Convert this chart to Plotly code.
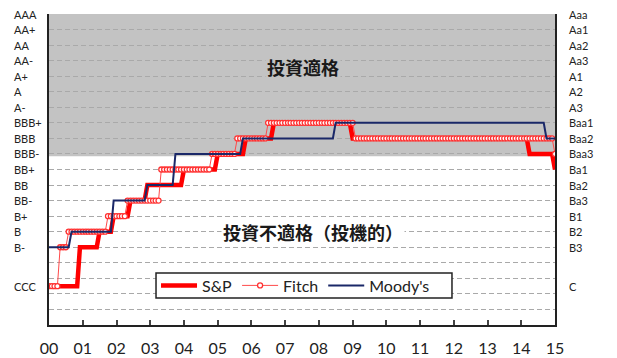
import pandas as pd
import plotly.graph_objects as go

# ---- data -------------------------------------------------------------
# rating scales (S&P/Fitch on the left, Moody's on the right) and their level on the axis
SP_SCALE = ["AAA", "AA+", "AA", "AA-", "A+", "A", "A-", "BBB+", "BBB", "BBB-",
            "BB+", "BB", "BB-", "B+", "B", "B-", "CCC"]
MOODY_SCALE = ["Aaa", "Aa1", "Aa2", "Aa3", "A1", "A2", "A3", "Baa1", "Baa2", "Baa3",
               "Ba1", "Ba2", "Ba3", "B1", "B2", "B3", "C"]
LEVELS = [20, 19, 18, 17, 16, 15, 14, 13, 12, 11, 10, 9, 8, 7, 6, 5, 2.5]

# monthly ratings, Jan-2000 .. Jan-2015, as (rating, number of months held)
SP_RUNS = [("CCC", 11), ("B-", 7), ("B", 5), ("B+", 6), ("BB-", 6), ("BB", 13),
           ("BB+", 12), ("BBB-", 10), ("BBB", 10), ("BBB+", 28), ("BBB", 63),
           ("BBB-", 9), ("BB+", 1)]
FITCH_RUNS = [("CCC", 4), ("B-", 3), ("B", 14), ("B+", 7), ("BB-", 12), ("BB+", 18),
              ("BBB-", 9), ("BBB", 11), ("BBB+", 31), ("BBB", 71), ("BBB-", 1)]
MOODY_RUNS = [("B3", 8), ("B2", 15), ("Ba3", 12), ("Ba2", 10), ("Baa3", 24),
              ("Baa2", 33), ("Baa1", 75), ("Baa2", 4)]

YEAR_LABELS = ["00", "01", "02", "03", "04", "05", "06", "07", "08", "09",
               "10", "11", "12", "13", "14", "15"]
SERIES_NAMES = ["S&P", "Fitch", "Moody's"]
ZONE_LABELS = ["投資適格", "投資不適格（投機的）"]
INVEST_GRADE_FLOOR = "BBB-"

# ---- helpers ----------------------------------------------------------
sp_level = dict(zip(SP_SCALE, LEVELS))
md_level = dict(zip(MOODY_SCALE, LEVELS))


def expand(runs, scale):
    out = []
    for rating, n in runs:
        out += [scale[rating]] * n
    return out


months = pd.date_range("2000-01-01", periods=181, freq="MS")
sp = expand(SP_RUNS, sp_level)
fitch = expand(FITCH_RUNS, sp_level)
moody = expand(MOODY_RUNS, md_level)
year_ticks = [pd.Timestamp(f"20{y}-01-01") for y in YEAR_LABELS]

FONT = "Lato, 'Open Sans', sans-serif"
CJK = "'Noto Sans CJK JP', sans-serif"

fig = go.Figure()
fig.add_trace(go.Scatter(x=months, y=sp, name=SERIES_NAMES[0], mode="lines",
                         line=dict(color="#ff0000", width=4.5)))
fig.add_trace(go.Scatter(x=months, y=fitch, name=SERIES_NAMES[1], mode="lines+markers",
                         line=dict(color="#ff4a4a", width=1),
                         marker=dict(symbol="circle", size=5, color="white",
                                     line=dict(color="#ff3030", width=1.3))))
fig.add_trace(go.Scatter(x=months, y=moody, name=SERIES_NAMES[2], mode="lines",
                         line=dict(color="#1a2868", width=2)))

# investment grade zone
fig.add_shape(type="rect", xref="paper", x0=0, x1=1, yref="y",
              y0=sp_level[INVEST_GRADE_FLOOR] - 0.15, y1=max(LEVELS),
              fillcolor="#c3c3c3", line=dict(width=0), layer="below")

# legend frame (white box with dark border, covering the grid)
fig.add_shape(type="rect", xref="paper", x0=0.2115, x1=0.7964,
              yref="paper", y0=0.0868, y1=0.1672,
              fillcolor="white", line=dict(color="#222", width=1.5), layer="above")

# left / right rating labels (left aligned like the original)
for r, m, lv in zip(SP_SCALE, MOODY_SCALE, LEVELS):
    fig.add_annotation(text=r, xref="paper", x=-0.0731, yref="y", y=lv,
                       xanchor="left", yanchor="middle", showarrow=False,
                       font=dict(family=FONT, size=11, color="#222"))
    fig.add_annotation(text=m, xref="paper", x=1.0237, yref="y", y=lv,
                       xanchor="left", yanchor="middle", showarrow=False,
                       font=dict(family=FONT, size=11, color="#222"))

fig.add_annotation(text="<b>" + ZONE_LABELS[0] + "</b>", xref="x",
                   x=pd.Timestamp("2007-07-15"), yref="y", y=16.6,
                   showarrow=False, font=dict(family=CJK, size=18, color="#1a1a1a"),
                   bgcolor="#c3c3c3")
fig.add_annotation(text="<b>" + ZONE_LABELS[1] + "</b>", xref="x",
                   x=pd.Timestamp("2007-11-01"), yref="y", y=6,
                   showarrow=False, font=dict(family=CJK, size=18, color="#1a1a1a"),
                   bgcolor="white")

fig.update_layout(
    width=617, height=358,
    margin=dict(l=49, r=62, t=14, b=33),
    paper_bgcolor="white", plot_bgcolor="white",
    showlegend=True,
    legend=dict(orientation="h", x=0.2115, y=0.127, xanchor="left", yanchor="middle",
                bgcolor="rgba(0,0,0,0)", borderwidth=0,
                font=dict(family=FONT, size=16, color="#222"),
                itemwidth=36, tracegroupgap=0),
)
fig.update_xaxes(
    range=[months[0], months[-1]],
    tickvals=year_ticks, ticktext=YEAR_LABELS,
    ticks="inside", ticklen=5, tickwidth=1.5, tickcolor="#444",
    showline=True, linecolor="#222", linewidth=1.5,
    showgrid=False, zeroline=False, automargin=False,
    tickfont=dict(family=FONT, size=16, color="#222"),
    ticklabelstandoff=8,
)
fig.update_yaxes(
    range=[0, 20],
    tickvals=list(range(0, 21)), showticklabels=False, ticks="",
    showgrid=True, gridcolor="#a9a9a9", gridwidth=1, griddash="5px,3px",
    showline=True, mirror=True, linecolor="#222", linewidth=1.5,
    zeroline=False, automargin=False,
)

fig.write_html("out.html")
